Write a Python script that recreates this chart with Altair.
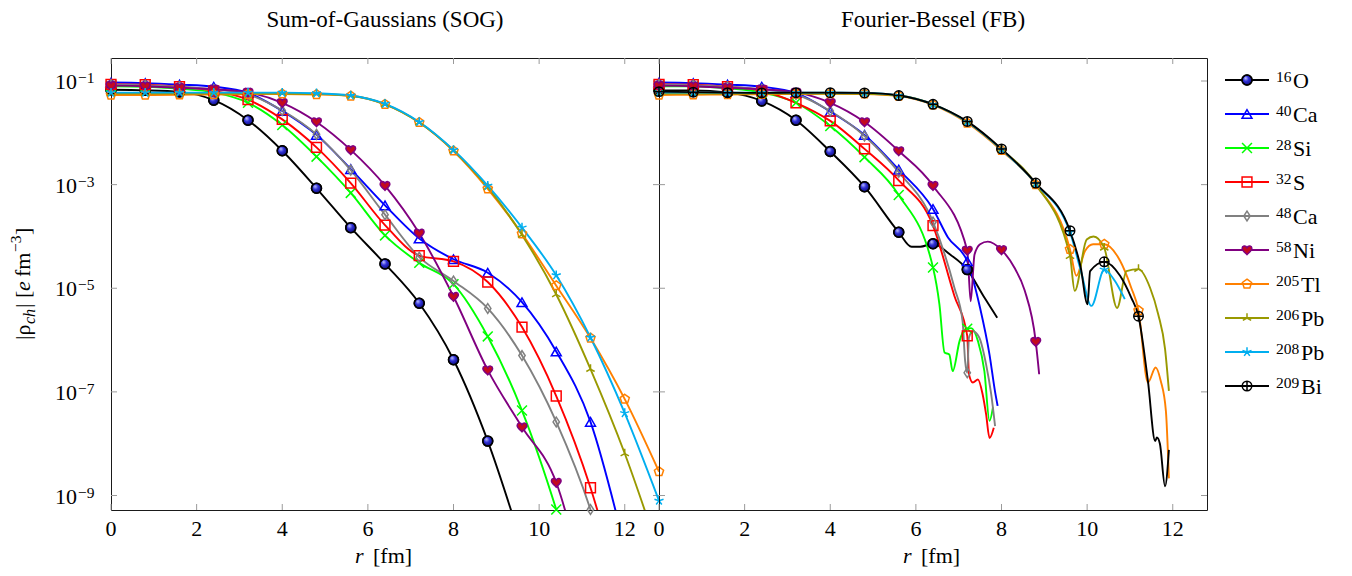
import altair as alt
import pandas as pd

FONT = "Liberation Serif"

SERIES = ["O16", "Ca40", "Si28", "S32", "Ca48", "Ni58", "Tl205", "Pb206", "Pb208", "Bi209"]
MASS = ["16", "40", "28", "32", "48", "58", "205", "206", "208", "209"]
ELEM = ["O", "Ca", "Si", "S", "Ca", "Ni", "Tl", "Pb", "Pb", "Bi"]

# marker grid (fm)
R8 = [0.0, 0.8, 1.6, 2.4, 3.2, 4.0, 4.8, 5.6, 6.4, 7.2, 8.0, 8.8, 9.6, 10.4, 11.2, 12.0, 12.8]

# ---- Sum-of-Gaussians: log10 |rho| at R8 points ----
SOG_O16 = [-1.17, -1.18, -1.21, -1.37, -1.756, -2.346, -3.07, -3.83, -4.53, -5.29, -6.38, -7.95, -9.95]
SOG_CA40 = [-1.03, -1.04, -1.07, -1.11, -1.23, -1.577, -2.04, -2.70, -3.40, -4.04, -4.44, -4.70, -5.27, -6.22, -7.58, -10.0]
SOG_SI28 = [-1.10, -1.11, -1.15, -1.22, -1.42, -1.85, -2.46, -3.16, -3.98, -4.51, -4.92, -5.93, -7.36, -9.27, -11.6]
SOG_S32 = [-1.064, -1.07, -1.11, -1.19, -1.36, -1.74, -2.28, -2.97, -3.78, -4.37, -4.48, -4.88, -5.75, -7.08, -8.85, -11.2]
SOG_CA48 = [-1.07, -1.08, -1.11, -1.16, -1.26, -1.57, -2.03, -2.72, -3.58, -4.40, -4.86, -5.39, -6.30, -7.58, -9.27, -11.6]
SOG_NI58 = [-1.09, -1.10, -1.13, -1.16, -1.22, -1.42, -1.79, -2.33, -3.02, -3.94, -5.16, -6.58, -7.68, -8.75, -11.3]
SOG_TL205 = [-1.27, -1.27, -1.265, -1.26, -1.255, -1.25, -1.26, -1.29, -1.45, -1.80, -2.35, -3.08, -3.95, -4.95, -5.96, -7.14, -8.54]
SOG_PB206 = [-1.24, -1.24, -1.24, -1.24, -1.24, -1.24, -1.25, -1.285, -1.45, -1.80, -2.34, -3.05, -3.97, -5.12, -6.56, -8.19, -10.1]
SOG_PB208 = [-1.225, -1.225, -1.225, -1.225, -1.225, -1.225, -1.235, -1.28, -1.44, -1.79, -2.33, -3.02, -3.83, -4.75, -5.95, -7.41, -9.1]

# ---- Fourier-Bessel: r (fm) and log10 |rho| ----
FB_O16_R = [0.0, 0.8, 1.6, 2.4, 3.2, 4.0, 4.8, 5.6, 5.9, 6.1, 6.4, 6.8, 7.2, 7.6, 7.9]
FB_O16 = [-1.18, -1.18, -1.22, -1.385, -1.756, -2.36, -3.04, -3.92, -4.2, -4.2, -4.14, -4.35, -4.64, -5.18, -5.57]
FB_CA40_R = [0.0, 0.8, 1.6, 2.4, 3.2, 4.0, 4.8, 5.6, 6.4, 6.75, 7.2, 7.5, 7.72, 7.85, 7.91]
FB_CA40 = [-1.03, -1.04, -1.07, -1.11, -1.23, -1.59, -2.04, -2.71, -3.47, -4.02, -4.48, -5.38, -6.28, -7.0, -7.27]
FB_SI28_R = [0.0, 0.8, 1.6, 2.4, 3.2, 4.0, 4.8, 5.6, 6.4, 6.55, 6.67, 6.78, 6.86, 7.02, 7.13, 7.2, 7.29, 7.45, 7.6, 7.72, 7.8]
FB_SI28 = [-1.10, -1.10, -1.14, -1.22, -1.42, -1.87, -2.47, -3.2, -4.6, -5.31, -6.24, -6.28, -6.6, -6.02, -5.8, -5.78, -5.77, -6.02, -6.6, -7.56, -7.3]
FB_S32_R = [0.0, 0.8, 1.6, 2.4, 3.2, 4.0, 4.8, 5.6, 6.4, 6.9, 7.2, 7.24, 7.33, 7.45, 7.56, 7.64, 7.72, 7.82]
FB_S32 = [-1.064, -1.07, -1.11, -1.19, -1.42, -1.77, -2.31, -2.92, -3.79, -5.15, -5.92, -6.66, -6.82, -6.76, -7.05, -7.43, -7.89, -7.69]
FB_CA48_R = [0.0, 0.8, 1.6, 2.4, 3.2, 4.0, 4.8, 5.6, 6.4, 6.9, 7.09, 7.15, 7.2, 7.24, 7.33, 7.48, 7.64, 7.76, 7.85]
FB_CA48 = [-1.07, -1.08, -1.11, -1.16, -1.26, -1.58, -2.06, -2.76, -3.72, -4.99, -5.63, -6.4, -6.63, -5.95, -5.83, -5.95, -6.47, -7.05, -7.66]
FB_NI58_R = [0.0, 0.8, 1.6, 2.4, 3.2, 4.0, 4.8, 5.6, 6.4, 7.2, 7.28, 7.37, 7.5, 7.68, 8.0, 8.3, 8.54, 8.8, 8.88]
FB_NI58 = [-1.09, -1.10, -1.13, -1.16, -1.22, -1.42, -1.79, -2.35, -3.02, -4.27, -5.25, -4.35, -4.15, -4.10, -4.26, -4.6, -5.04, -6.03, -6.66]
FB_TL205_R = [0.0, 0.8, 1.6, 2.4, 3.2, 4.0, 4.8, 5.6, 6.4, 7.2, 8.0, 8.8, 9.6, 9.75, 9.95, 10.14, 10.4, 10.77, 11.03, 11.2, 11.42, 11.6, 11.72, 11.84, 11.91]
FB_TL205 = [-1.27, -1.265, -1.26, -1.255, -1.25, -1.245, -1.25, -1.29, -1.46, -1.81, -2.34, -3.0, -4.25, -4.76, -4.28, -4.15, -4.15, -4.47, -4.99, -5.43, -6.82, -6.53, -6.79, -7.37, -8.67]
FB_PB206_R = [0.0, 0.8, 1.6, 2.4, 3.2, 4.0, 4.8, 5.6, 6.4, 7.2, 8.0, 8.8, 9.6, 9.71, 9.99, 10.15, 10.4, 10.7, 10.92, 11.2, 11.47, 11.66, 11.82, 11.91]
FB_PB206 = [-1.24, -1.24, -1.24, -1.24, -1.24, -1.24, -1.245, -1.28, -1.45, -1.79, -2.32, -2.99, -4.38, -5.05, -4.06, -4.0, -4.22, -5.38, -4.67, -4.63, -4.99, -5.5, -6.17, -6.98]
FB_PB208_R = [0.0, 0.8, 1.6, 2.4, 3.2, 4.0, 4.8, 5.6, 6.4, 7.2, 8.0, 8.8, 9.6, 9.85, 10.1, 10.4, 10.65, 10.88]
FB_PB208 = [-1.225, -1.225, -1.225, -1.225, -1.225, -1.225, -1.23, -1.28, -1.45, -1.79, -2.32, -2.98, -3.92, -4.65, -5.34, -4.64, -4.86, -5.21]
FB_BI209_R = [0.0, 0.8, 1.6, 2.4, 3.2, 4.0, 4.8, 5.6, 6.4, 7.2, 8.0, 8.8, 9.6, 9.85, 10.01, 10.07, 10.4, 10.77, 11.03, 11.2, 11.42, 11.59, 11.63, 11.7, 11.82, 11.91]
FB_BI209 = [-1.205, -1.215, -1.225, -1.23, -1.225, -1.225, -1.23, -1.28, -1.45, -1.78, -2.31, -2.97, -3.89, -4.6, -5.31, -4.67, -4.49, -4.76, -5.18, -5.54, -6.79, -7.95, -7.88, -8.0, -8.82, -8.12]

# ---- axis ticks / tick labels ----
XTICKS = [0, 2, 4, 6, 8, 10, 12]
XLABELS = ["0", "2", "4", "6", "8", "10", "12"]
YTICKS = [1e-1, 1e-3, 1e-5, 1e-7, 1e-9]
YBASE = ["10", "10", "10", "10", "10"]
YEXP = ["−1", "−3", "−5", "−7", "−9"]
YMIN, YMAX = 5.25e-10, 0.278
XMAX = 12.8

# ---- styles ----
LINE_COLORS = ["#000000", "#0000ff", "#00ff00", "#ff0000", "#808080", "#800080", "#ff8000", "#999900", "#00aeef", "#000000"]
MARK_STROKES = ["#000000", "#0000ff", "#00ff00", "#ff0000", "#808080", "#800080", "#ff8000", "#999900", "#00aeef", "#000000"]
MARK_FILLS = ["transparent", "transparent", "#00ff00", "transparent", "transparent", "#c40a1e",
              "transparent", "transparent", "transparent", "transparent"]
CROSS = "M-1,-1L1,1M-1,1L1,-1"
DIAMOND = "M0,-1L0.65,0L0,1L-0.65,0Z"
HEART = "M0,0.95C-0.25,0.65,-1,0.2,-1,-0.35C-1,-0.85,-0.3,-1.05,0,-0.5C0.3,-1.05,1,-0.85,1,-0.35C1,0.2,0.25,0.65,0,0.95Z"
PENTAGON = "M0,-1L0.951,-0.309L0.588,0.809L-0.588,0.809L-0.951,-0.309Z"
MERC = "M0,0L0,-1M0,0L-0.866,0.5M0,0L0.866,0.5"
ASTER = "M0,0L0,-1M0,0L0.951,-0.309M0,0L0.588,0.809M0,0L-0.588,0.809M0,0L-0.951,-0.309"
OPLUS = "M-1,0 A1,1 0 1 1 1,0 A1,1 0 1 1 -1,0 Z M-1,0L1,0M0,-1L0,1"
SHAPES = ["circle", "triangle-up", CROSS, "square", DIAMOND, HEART, PENTAGON, MERC, ASTER, OPLUS]
SIZES = [100, 90, 50, 115, 80, 130, 110, 75, 90, 120]
BALL = alt.RadialGradient(
    gradient="radial",
    stops=[alt.GradientStop(color="#c8ccff", offset=0), alt.GradientStop(color="#3030d8", offset=0.45),
           alt.GradientStop(color="#0a0a70", offset=1)],
    x1=0.35, y1=0.3, r1=0, x2=0.45, y2=0.45, r2=0.6)

W, H = 548, 452
FRAME = alt.ViewBackground(stroke="#1a1a1a", strokeWidth=1)


def build(panel_sets):
    rows = []
    for name, rs, logs in panel_sets:
        for r, lv in zip(rs, logs):
            k = r / 0.8
            rows.append({"series": name, "r": r, "v": 10 ** lv,
                         "marker": abs(k - round(k)) < 1e-6})
    return pd.DataFrame(rows)


sog_df = build([
    ("O16", R8[:len(SOG_O16)], SOG_O16),
    ("Ca40", R8[:len(SOG_CA40)], SOG_CA40),
    ("Si28", R8[:len(SOG_SI28)], SOG_SI28),
    ("S32", R8[:len(SOG_S32)], SOG_S32),
    ("Ca48", R8[:len(SOG_CA48)], SOG_CA48),
    ("Ni58", R8[:len(SOG_NI58)], SOG_NI58),
    ("Tl205", R8[:len(SOG_TL205)], SOG_TL205),
    ("Pb206", R8[:len(SOG_PB206)], SOG_PB206),
    ("Pb208", R8[:len(SOG_PB208)], SOG_PB208),
])
fb_df = build([
    ("O16", FB_O16_R, FB_O16),
    ("Ca40", FB_CA40_R, FB_CA40),
    ("Si28", FB_SI28_R, FB_SI28),
    ("S32", FB_S32_R, FB_S32),
    ("Ca48", FB_CA48_R, FB_CA48),
    ("Ni58", FB_NI58_R, FB_NI58),
    ("Tl205", FB_TL205_R, FB_TL205),
    ("Pb206", FB_PB206_R, FB_PB206),
    ("Pb208", FB_PB208_R, FB_PB208),
    ("Bi209", FB_BI209_R, FB_BI209),
])

XS = alt.Scale(domain=[0, XMAX], nice=False, zero=False)
YS = alt.Scale(type="log", domain=[YMIN, YMAX], nice=False)

color_sc = alt.Scale(domain=SERIES, range=LINE_COLORS)
stroke_sc = alt.Scale(domain=SERIES, range=MARK_STROKES)
fill_sc = alt.Scale(domain=SERIES, range=MARK_FILLS)
shape_sc = alt.Scale(domain=SERIES, range=SHAPES)
size_sc = alt.Scale(domain=SERIES, range=SIZES)


def one_text(s, x, y, size=22, style="normal", angle=0, align="left", baseline="alphabetic"):
    return alt.Chart(alt.Data(values=[{"k": 0}])).mark_text(
        text=s, angle=angle, align=align, baseline=baseline, fontSize=size,
        fontStyle=style, font=FONT, color="black"
    ).encode(x=alt.value(x), y=alt.value(y))


def panel(df, title, left):
    X = alt.X("r:Q", scale=XS, axis=None)
    Y = alt.Y("v:Q", scale=YS, axis=None)
    lines = alt.Chart(df).mark_line(interpolate="monotone", clip=True, strokeWidth=1.9).encode(
        x=X, y=Y,
        color=alt.Color("series:N", scale=color_sc, legend=None),
        detail="series:N",
    )
    pts_df = df[(df["marker"]) & (df["v"] >= YMIN)]
    o_pts = pts_df[pts_df["series"] == "O16"]
    balls = alt.Chart(o_pts).mark_point(shape="circle", filled=True, fill=BALL, stroke="black",
                                        strokeWidth=1.4, size=100, opacity=1).encode(x=X, y=Y)
    points = alt.Chart(pts_df).mark_point(filled=False, opacity=1, strokeWidth=1.5).encode(
        x=X, y=Y,
        shape=alt.Shape("series:N", scale=shape_sc, legend=None),
        stroke=alt.Stroke("series:N", scale=stroke_sc, legend=None),
        fill=alt.Fill("series:N", scale=fill_sc, legend=None),
        size=alt.Size("series:O", scale=size_sc, legend=None),
    )
    ytd = pd.DataFrame({"t": YTICKS, "base": YBASE, "exp": YEXP})
    xtd = pd.DataFrame({"t": XTICKS, "lab": XLABELS})
    TY = alt.Y("t:Q", scale=YS, axis=None)
    TX = alt.X("t:Q", scale=XS, axis=None)
    tick_kw = dict(color="#9a9a9a", strokeWidth=1)
    yt_l = alt.Chart(ytd).mark_rule(**tick_kw).encode(y=TY, x=alt.value(0), x2=alt.value(6))
    yt_r = alt.Chart(ytd).mark_rule(**tick_kw).encode(y=TY, x=alt.value(W - 6), x2=alt.value(W))
    xt_b = alt.Chart(xtd).mark_rule(**tick_kw).encode(x=TX, y=alt.value(H - 6), y2=alt.value(H))
    xt_t = alt.Chart(xtd).mark_rule(**tick_kw).encode(x=TX, y=alt.value(0), y2=alt.value(6))
    xlab = alt.Chart(xtd).mark_text(fontSize=22, font=FONT, color="black", align="center",
                                    baseline="alphabetic").encode(
        x=TX, y=alt.value(H + 26), text="lab:N")

    layers = [yt_l, yt_r, xt_b, xt_t, lines, balls, points, xlab,
              one_text("r", 244, H + 53, style="italic"),
              one_text("[fm]", 262, H + 53)]
    if left:
        ybase = alt.Chart(ytd).mark_text(fontSize=22, font=FONT, color="black", align="right",
                                         baseline="alphabetic", dy=8).encode(
            y=TY, x=alt.value(-34), text="base:N")
        yexp = alt.Chart(ytd).mark_text(fontSize=15.5, font=FONT, color="black", align="left",
                                        baseline="alphabetic", dy=2).encode(
            y=TY, x=alt.value(-33), text="exp:N")
        layers += [
            ybase, yexp,
            one_text("|ρ", -81, 282, angle=270),
            one_text("ch", -76, 266, size=16, style="italic", angle=270),
            one_text("| [", -81, 250, angle=270),
            one_text("e", -81, 233, style="italic", angle=270),
            one_text("fm", -81, 219, angle=270),
            one_text("−3", -90, 194, size=15.5, angle=270),
            one_text("]", -81, 177, angle=270),
        ]
    return alt.layer(*layers).properties(
        width=W, height=H, view=FRAME,
        title=alt.TitleParams(title, font=FONT, fontSize=23, fontWeight="normal", color="black",
                              anchor="middle", baseline="alphabetic", offset=8),
    )


left = panel(sog_df, "Sum-of-Gaussians (SOG)", True)
right = panel(fb_df, "Fourier-Bessel (FB)", False)

leg_df = pd.DataFrame({"series": SERIES, "mass": MASS, "elem": ELEM, "idx": list(range(len(SERIES)))})
leg_df["nd"] = leg_df["mass"].str.len()
LY = alt.Y("idx:Q", scale=alt.Scale(domain=[-0.647, 12.647], nice=False, zero=False, reverse=True), axis=None)
leg_lines = alt.Chart(leg_df).mark_rule(strokeWidth=2.2).encode(
    x=alt.value(18), x2=alt.value(62), y=LY,
    color=alt.Color("series:N", scale=color_sc, legend=None))
leg_ball = alt.Chart(leg_df).transform_filter("datum.series == 'O16'").mark_point(
    shape="circle", filled=True, fill=BALL, stroke="black", strokeWidth=1.4, size=100, opacity=1).encode(
    x=alt.value(40), y=LY)
leg_pts = alt.Chart(leg_df).mark_point(filled=False, opacity=1, strokeWidth=1.5).encode(
    x=alt.value(40), y=LY,
    shape=alt.Shape("series:N", scale=shape_sc, legend=None),
    stroke=alt.Stroke("series:N", scale=stroke_sc, legend=None),
    fill=alt.Fill("series:N", scale=fill_sc, legend=None),
    size=alt.Size("series:O", scale=size_sc, legend=None))
leg_mass = alt.Chart(leg_df).mark_text(align="left", baseline="alphabetic", fontSize=15.5, font=FONT,
                                       color="black", dy=2).encode(x=alt.value(69), y=LY, text="mass:N")
leg_el2 = alt.Chart(leg_df).transform_filter("datum.nd == 2").mark_text(
    align="left", baseline="alphabetic", fontSize=22, font=FONT, color="black", dy=8).encode(
    x=alt.value(86), y=LY, text="elem:N")
leg_el3 = alt.Chart(leg_df).transform_filter("datum.nd == 3").mark_text(
    align="left", baseline="alphabetic", fontSize=22, font=FONT, color="black", dy=8).encode(
    x=alt.value(94), y=LY, text="elem:N")
legend = alt.layer(leg_lines, leg_ball, leg_pts, leg_mass, leg_el2, leg_el3).properties(
    width=126, height=H, view=alt.ViewBackground(stroke="transparent"))

chart = alt.hconcat(left, right, legend, spacing=0, bounds="flush").resolve_scale(
    x="independent", y="independent"
).properties(
    padding={"left": 0, "top": 0, "right": 0, "bottom": 0}
).configure(font=FONT)

chart.save("out.html", embed_options={"renderer": "svg", "actions": False})
